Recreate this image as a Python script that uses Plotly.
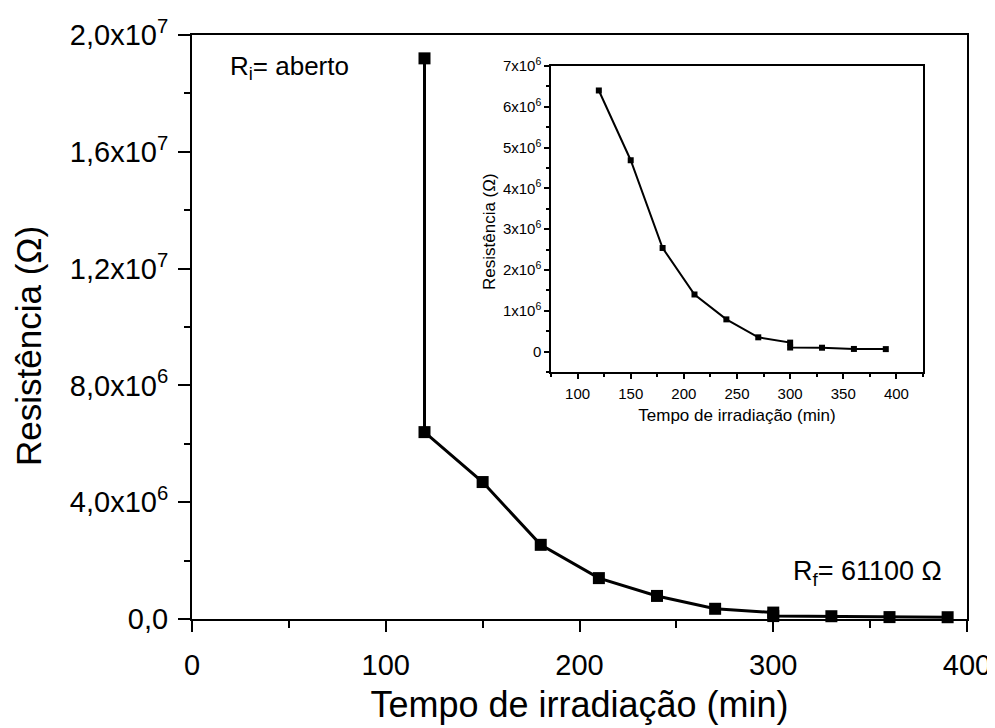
import plotly.graph_objects as go

# ---------------- data ----------------
time_min = [120, 150, 180, 210, 240, 270, 300, 300, 330, 360, 390]
resistance = [6.40e6, 4.69e6, 2.54e6, 1.40e6, 7.9e5, 3.5e5, 2.2e5, 1.0e5, 9.5e4, 6.5e4, 6.11e4]
open_time = [120]
open_res = [1.92e7]

main_xticks = [0, 100, 200, 300, 400]
main_yticks = [0, 4e6, 8e6, 1.2e7, 1.6e7, 2.0e7]
main_yticktext = ["0,0", "4,0x10<sup>6</sup>", "8,0x10<sup>6</sup>",
                  "1,2x10<sup>7</sup>", "1,6x10<sup>7</sup>", "2,0x10<sup>7</sup>"]
inset_xticks = [100, 150, 200, 250, 300, 350, 400]
inset_yticks = [0, 1e6, 2e6, 3e6, 4e6, 5e6, 6e6, 7e6]
inset_yticktext = ["0"] + ["%dx10<sup>6</sup>" % k for k in range(1, 8)]

FONT = "Liberation Sans, Arial, sans-serif"

# ---------------- layout geometry ----------------
# page body has an 8px margin, so the figure is drawn 8px right/down
OFF = 8
W, H = 995 - OFF, 728 - OFF
L, R, T, B = 192 - OFF, 28, 35 - OFF, 109
PW, PH = W - L - R, H - T - B


def px_x(p):
    return (p - OFF - L) / PW


def px_y(p):
    return (H - B - (p - OFF)) / PH


fig = go.Figure()

fig.add_trace(go.Scatter(
    x=open_time + time_min, y=open_res + resistance,
    mode="lines+markers",
    line=dict(color="black", width=3),
    marker=dict(symbol="square", size=12, color="black"),
    cliponaxis=False, showlegend=False, xaxis="x", yaxis="y"))

fig.add_trace(go.Scatter(
    x=time_min, y=resistance,
    mode="lines+markers",
    line=dict(color="black", width=2),
    marker=dict(symbol="square", size=6, color="black"),
    cliponaxis=False, showlegend=False, xaxis="x2", yaxis="y2"))

axis_common = dict(showgrid=False, zeroline=False, showline=True, linecolor="black",
                   mirror=True, ticks="outside", tickcolor="black", automargin=False)

fig.update_layout(
    width=W, height=H,
    margin=dict(l=L, r=R, t=T, b=B),
    paper_bgcolor="white", plot_bgcolor="white",
    font=dict(family=FONT, color="black"),
    xaxis=dict(
        **axis_common, domain=[0, 1], range=[0, 400], linewidth=2,
        tickmode="array", tickvals=main_xticks, ticktext=[str(v) for v in main_xticks],
        ticklen=11, tickwidth=2, tickfont=dict(size=29), ticklabelstandoff=8,
        minor=dict(tickmode="linear", tick0=0, dtick=50, ticks="outside", ticklen=7,
                   tickwidth=2, tickcolor="black", showgrid=False),
        title=dict(text="Tempo de irradiação (min)", font=dict(size=36), standoff=12),
    ),
    yaxis=dict(
        **axis_common, domain=[0, 1], range=[0, 2.0e7], linewidth=2,
        tickmode="array", tickvals=main_yticks, ticktext=main_yticktext,
        ticklen=12, tickwidth=2, tickfont=dict(size=29), ticklabelstandoff=4,
        minor=dict(tickmode="linear", tick0=0, dtick=2e6, ticks="outside", ticklen=6,
                   tickwidth=2, tickcolor="black", showgrid=False),
    ),
    xaxis2=dict(
        **axis_common, domain=[px_x(551), px_x(923)], anchor="y2", range=[75, 425],
        linewidth=1.5, tickmode="array", tickvals=inset_xticks,
        ticktext=[str(v) for v in inset_xticks],
        ticklen=5, tickwidth=1.5, tickfont=dict(size=15), ticklabelstandoff=2,
        minor=dict(tickmode="linear", tick0=75, dtick=25, ticks="outside", ticklen=3,
                   tickwidth=1.5, tickcolor="black", showgrid=False),
        title=dict(text="Tempo de irradiação (min)", font=dict(size=17), standoff=8),
    ),
    yaxis2=dict(
        **axis_common, domain=[px_y(372), px_y(66)], anchor="x2", range=[-0.5e6, 7e6],
        linewidth=1.5, tickmode="array", tickvals=inset_yticks, ticktext=inset_yticktext,
        ticklen=5, tickwidth=1.5, tickfont=dict(size=15),
        minor=dict(tickmode="linear", tick0=-0.5e6, dtick=0.5e6, ticks="outside", ticklen=3,
                   tickwidth=1.5, tickcolor="black", showgrid=False),
    ),
    annotations=[
        dict(text="Resistência (Ω)", textangle=-90, xref="paper", yref="paper",
             x=px_x(28), y=px_y(346), xanchor="center", yanchor="middle",
             showarrow=False, font=dict(size=35)),
        dict(text="Resistência (Ω)", textangle=-90, xref="paper", yref="paper",
             x=px_x(490), y=px_y(232), xanchor="center", yanchor="middle",
             showarrow=False, font=dict(size=17)),
        dict(text="R<sub>i</sub>= aberto", xref="paper", yref="paper",
             x=px_x(228), y=px_y(68), xanchor="left", yanchor="middle",
             showarrow=False, font=dict(size=26)),
        dict(text="R<sub>f</sub>= 61100 Ω", xref="paper", yref="paper",
             x=px_x(791), y=px_y(573), xanchor="left", yanchor="middle",
             showarrow=False, font=dict(size=27)),
    ],
)

fig.write_html("out.html")
